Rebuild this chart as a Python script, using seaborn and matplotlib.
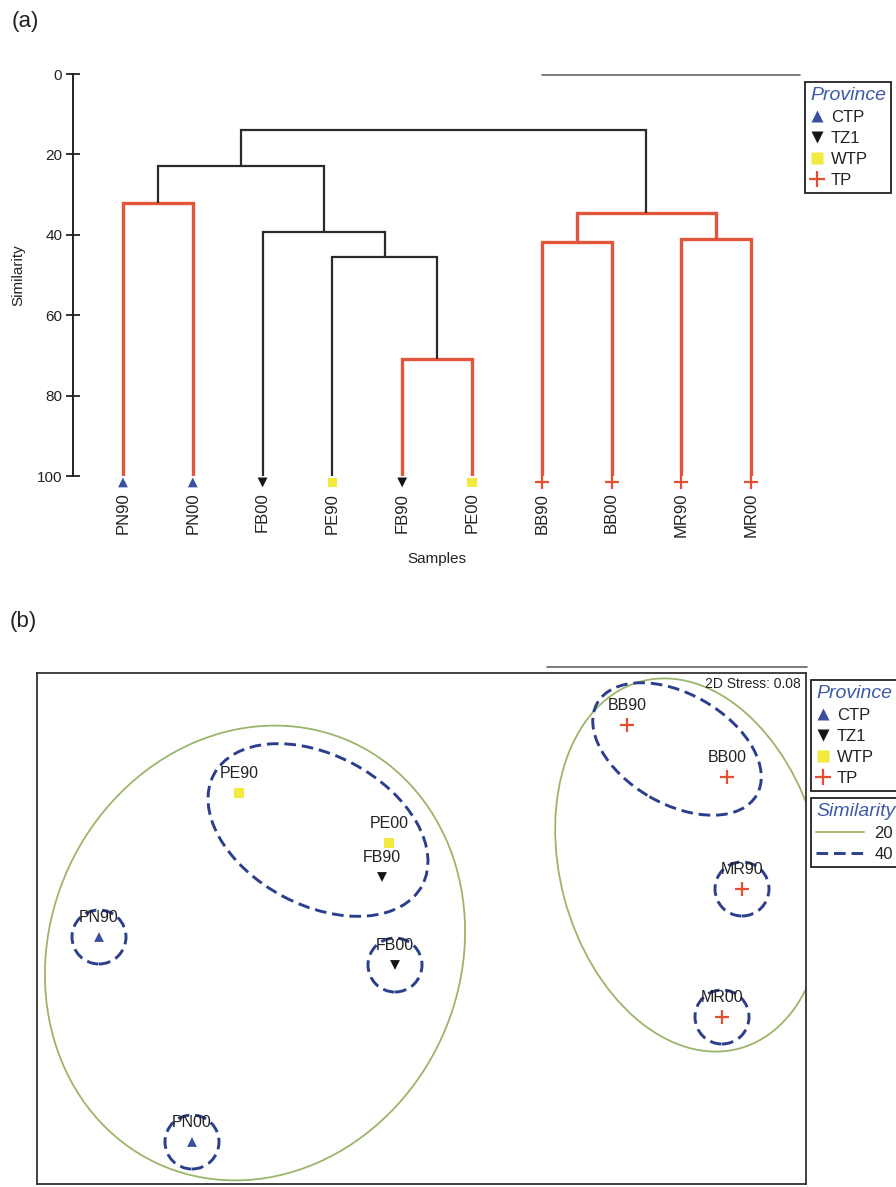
import numpy as np
import pandas as pd
import matplotlib
matplotlib.use("Agg")
import matplotlib.pyplot as plt
from matplotlib.patches import Ellipse, Circle
from matplotlib.lines import Line2D
import seaborn as sns

# ---------------------------------------------------------------- data
samples = ["PN90", "PN00", "FB00", "PE90", "FB90", "PE00", "BB90", "BB00", "MR90", "MR00"]
provinces = ["CTP", "CTP", "TZ1", "WTP", "TZ1", "WTP", "TP", "TP", "TP", "TP"]

# group-average clustering: each join merges two members at a similarity level
join_left = ["PN90", "FB90", "PE90", "FB00", "J0", "BB90", "MR90", "J5", "J4"]
join_right = ["PN00", "PE00", "J1", "J2", "J3", "BB00", "MR00", "J6", "J7"]
join_level = [32.0, 71.0, 45.5, 39.3, 23.0, 41.8, 41.0, 34.6, 14.0]
join_distinct = [False, False, True, True, True, False, False, False, True]  # SIMPROF

# nMDS ordination (2D)
mds_x = [-1.290, -0.918, -0.106, -0.730, -0.158, -0.130, 0.822, 1.222, 1.282, 1.202]
mds_y = [-0.034, -0.854, -0.146, 0.542, 0.206, 0.342, 0.814, 0.606, 0.158, -0.354]
stress = 0.08

# similarity contours drawn on the ordination
c20_x = [-0.666, 1.074]
c20_y = [-0.098, 0.254]
c20_a = [0.928, 0.760]
c20_b = [0.820, 0.520]
c20_angle = [65, 105]
c40_x = [-0.414, 1.022]
c40_y = [0.394, 0.718]
c40_a = [0.472, 0.368]
c40_b = [0.300, 0.220]
c40_angle = [-28, -30]
c40_single = ["PN90", "PN00", "FB00", "MR90", "MR00"]
single_radius = 0.108

# ---------------------------------------------------------------- style
sns.set_theme(style="ticks")
plt.rcParams["font.family"] = ["Liberation Sans", "DejaVu Sans"]
plt.rcParams["text.color"] = "#222222"
plt.rcParams["axes.labelcolor"] = "#222222"
plt.rcParams["xtick.color"] = "#222222"
plt.rcParams["ytick.color"] = "#222222"

prov_order = ["CTP", "TZ1", "WTP", "TP"]
prov_color = {"CTP": "#3b4f9e", "TZ1": "#151515", "WTP": "#f2ea3c", "TP": "#e4502f"}
prov_marker = {"CTP": "^", "TZ1": "v", "WTP": "s", "TP": "+"}
prov_size = {"CTP": 50, "TZ1": 50, "WTP": 44, "TP": 115}
RED = "#e2553a"
BLACK = "#2a2a2a"
GREEN = "#9bb56a"
BLUE = "#2b3f8c"
TITLE_BLUE = "#3d5aa8"

W, H = 896, 1187
fig = plt.figure(figsize=(W / 100, H / 100), dpi=100)
fig.patch.set_facecolor("white")


def fx(px):
    return px / W


def fy(py):
    return 1 - py / H


# ---------------------------------------------------------------- (a) dendrogram
ax1 = fig.add_axes([fx(73), fy(476), fx(800) - fx(73), fy(74) - fy(476)])
pos = {s: float(i) for i, s in enumerate(samples)}
lvl = {s: 100.0 for s in samples}
for k, (l, r, h, dist) in enumerate(zip(join_left, join_right, join_level, join_distinct)):
    col = BLACK if dist else RED
    lw = 1.6 if dist else 2.4
    x1, x2 = pos[l], pos[r]
    ax1.plot([x1, x1, x2, x2], [lvl[l], h, h, lvl[r]], color=col, lw=lw,
             solid_capstyle="butt", solid_joinstyle="miter", zorder=2)
    pos[f"J{k}"] = (x1 + x2) / 2
    lvl[f"J{k}"] = h

leaf_df = pd.DataFrame({"x": np.arange(len(samples)), "y": 101.6, "prov": provinces})
for p in prov_order:
    sub = leaf_df[leaf_df["prov"] == p]
    kw = dict(linewidth=1.6) if p == "TP" else dict(edgecolor="none")
    sns.scatterplot(data=sub, x="x", y="y", ax=ax1, marker=prov_marker[p],
                    color=prov_color[p], s=prov_size[p], clip_on=False, zorder=3,
                    legend=False, **kw)

ax1.set_xlim(-0.716, 9.7)
ax1.set_ylim(100, 0)
for side in ["top", "right", "bottom"]:
    ax1.spines[side].set_visible(False)
ax1.spines["left"].set_linewidth(1.4)
ax1.spines["left"].set_color("#222222")
ax1.spines["left"].set_bounds(0, 100)
ax1.set_yticks([0, 20, 40, 60, 80, 100])
ax1.tick_params(axis="y", direction="inout", length=9.5, width=1.3, labelsize=11, pad=3)
ax1.set_xticks(np.arange(len(samples)))
ax1.set_xticklabels(samples, rotation=90, fontsize=12)
ax1.tick_params(axis="x", length=0, pad=12)
ax1.set_xlabel("Samples", fontsize=11, labelpad=11)
ax1.set_ylabel("Similarity", fontsize=11, labelpad=8)


def province_handles():
    hs = []
    for p in prov_order:
        if p == "TP":
            hs.append(Line2D([], [], linestyle="None", marker="+", color=prov_color[p],
                             markersize=12, markeredgewidth=1.6, label=p))
        else:
            hs.append(Line2D([], [], linestyle="None", marker=prov_marker[p],
                             color=prov_color[p], markeredgecolor="none",
                             markersize=9, label=p))
    return hs


def styled_legend(handles, title, x, y, **kw):
    leg = fig.legend(handles=handles, title=title, loc="upper left",
                     bbox_to_anchor=(fx(x), fy(y)), borderaxespad=0,
                     frameon=True, fancybox=False, framealpha=1, edgecolor="#222222",
                     fontsize=12, alignment="left", borderpad=0.3,
                     labelspacing=0.36,
                     title_fontproperties={"style": "italic", "size": 14}, **kw)
    leg.get_title().set_color(TITLE_BLUE)
    leg.get_frame().set_linewidth(1.3)
    return leg


styled_legend(province_handles(), "Province", 805, 82, handlelength=0.8, handletextpad=0.45)

# ---------------------------------------------------------------- (b) nMDS
ax2 = fig.add_axes([fx(37), fy(1184), fx(806) - fx(37), fy(673) - fy(1184)])
ax2.set_xlim(-1.538, 1.538)
ax2.set_ylim(-1.022, 1.022)
ax2.set_xticks([])
ax2.set_yticks([])
for sp in ax2.spines.values():
    sp.set_linewidth(1.3)
    sp.set_color("#333333")

for x, y, a, b, ang in zip(c20_x, c20_y, c20_a, c20_b, c20_angle):
    ax2.add_patch(Ellipse((x, y), 2 * a, 2 * b, angle=ang, fill=False,
                          edgecolor=GREEN, lw=1.3, zorder=1))
dash = (0, (4, 2))
for x, y, a, b, ang in zip(c40_x, c40_y, c40_a, c40_b, c40_angle):
    ax2.add_patch(Ellipse((x, y), 2 * a, 2 * b, angle=ang, fill=False,
                          edgecolor=BLUE, lw=2.1, linestyle=dash, zorder=2))
for s in c40_single:
    i = samples.index(s)
    ax2.add_patch(Circle((mds_x[i], mds_y[i]), single_radius, fill=False,
                         edgecolor=BLUE, lw=2.1, linestyle=dash, zorder=2))

mds_df = pd.DataFrame({"x": mds_x, "y": mds_y, "prov": provinces, "name": samples})
for p in prov_order:
    sub = mds_df[mds_df["prov"] == p]
    kw = dict(linewidth=1.6) if p == "TP" else dict(edgecolor="none")
    sns.scatterplot(data=sub, x="x", y="y", ax=ax2, marker=prov_marker[p],
                    color=prov_color[p], s=prov_size[p], zorder=3, legend=False, **kw)
for _, r in mds_df.iterrows():
    ax2.text(r["x"], r["y"] + 0.078, r["name"], ha="center", va="center",
             fontsize=11.5, zorder=4)
ax2.set_xlabel("")
ax2.set_ylabel("")
ax2.text(0.993, 0.992, f"2D Stress: {stress:.2f}", transform=ax2.transAxes,
         ha="right", va="top", fontsize=10)

styled_legend(province_handles(), "Province", 811, 680, handlelength=0.8, handletextpad=0.45)
sim_handles = [
    Line2D([], [], color=GREEN, lw=1.3, label="20"),
    Line2D([], [], color=BLUE, lw=2.1, linestyle=dash, label="40"),
]
styled_legend(sim_handles, "Similarity", 811, 798, handlelength=2.9, handletextpad=0.6)

# ---------------------------------------------------------------- panel letters and rules
fig.text(fx(12), fy(22), "(a)", fontsize=16, ha="left", va="center")
fig.text(fx(10), fy(622), "(b)", fontsize=16, ha="left", va="center")
fig.add_artist(Line2D([fx(542), fx(800)], [fy(75), fy(75)], transform=fig.transFigure,
                      color="#666666", lw=1.2))
fig.add_artist(Line2D([fx(547), fx(807)], [fy(667), fy(667)], transform=fig.transFigure,
                      color="#666666", lw=1.2))

fig.savefig("out.png", dpi=100, facecolor="white")
